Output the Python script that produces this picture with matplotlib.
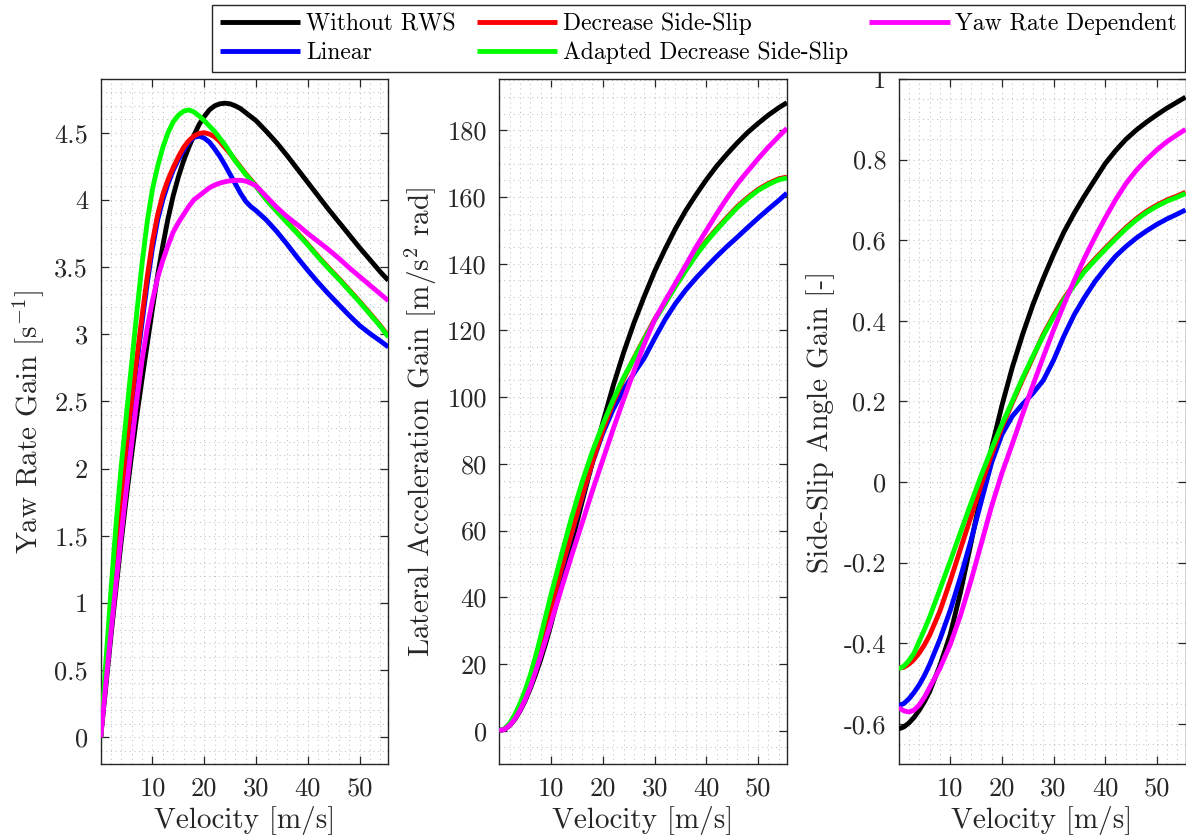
import matplotlib
matplotlib.use("Agg")
import matplotlib.pyplot as plt
from matplotlib.ticker import MultipleLocator, FixedLocator, FixedFormatter

plt.rcParams["font.family"] = ["cmr10", "DejaVu Serif"]
plt.rcParams["mathtext.fontset"] = "cm"
plt.rcParams["axes.unicode_minus"] = False
plt.rcParams["axes.formatter.use_mathtext"] = True

# ---------------------------------------------------------------- data
SERIES = ["Without RWS", "Linear", "Decrease Side-Slip",
          "Adapted Decrease Side-Slip", "Yaw Rate Dependent"]
COLORS = ["#000000", "#0000ff", "#ff0000", "#00ff00", "#ff00ff"]

# velocity samples [m/s]
V_YAW = [0, 1, 2, 3, 4, 5, 6, 7, 8, 9, 10, 11, 12, 13, 14, 15, 16, 17, 18,
         19, 20, 21, 22, 23, 24, 25, 26, 27, 28, 29, 30, 32, 34, 36, 38, 40,
         42, 44, 46, 48, 50, 52, 54, 55.56]
V_ACC = [0, 1, 2, 3, 4, 5, 6, 7, 8, 9, 10, 12, 14, 16, 18, 20, 22, 24, 26,
         28, 30, 32, 34, 36, 38, 40, 42, 44, 46, 48, 50, 52, 54, 55.56]
V_BETA = [0, 1, 2, 3, 4, 5, 6, 8, 10, 12, 14, 16, 18, 20, 22, 24, 26, 28,
          30, 32, 34, 36, 38, 40, 42, 44, 46, 48, 50, 52, 54, 55.56]

# yaw rate gain [1/s]
yaw_without = [0, 0.38, 0.76, 1.12, 1.47, 1.80, 2.11, 2.40, 2.67, 2.93, 3.19,
               3.44, 3.66, 3.86, 4.03, 4.17, 4.29, 4.39, 4.48, 4.56, 4.62,
               4.67, 4.70, 4.715, 4.72, 4.715, 4.70, 4.68, 4.65, 4.62, 4.59,
               4.51, 4.425, 4.33, 4.23, 4.13, 4.03, 3.93, 3.835, 3.74, 3.645,
               3.555, 3.465, 3.40]
yaw_linear = [0, 0.46, 0.92, 1.35, 1.76, 2.14, 2.47, 2.79, 3.09, 3.38, 3.64,
              3.85, 4.00, 4.12, 4.22, 4.30, 4.37, 4.43, 4.465, 4.475, 4.46,
              4.43, 4.38, 4.325, 4.26, 4.19, 4.12, 4.05, 3.99, 3.95, 3.92,
              3.85, 3.765, 3.67, 3.57, 3.475, 3.385, 3.30, 3.22, 3.14, 3.065,
              3.005, 2.95, 2.905]
yaw_decrease = [0, 0.47, 0.94, 1.38, 1.80, 2.18, 2.51, 2.83, 3.14, 3.43, 3.69,
                3.89, 4.04, 4.15, 4.24, 4.32, 4.39, 4.44, 4.475, 4.495, 4.50,
                4.49, 4.47, 4.435, 4.39, 4.345, 4.295, 4.245, 4.195, 4.15,
                4.105, 4.005, 3.92, 3.835, 3.755, 3.67, 3.58, 3.495, 3.415,
                3.33, 3.245, 3.155, 3.065, 2.985]
yaw_adapted = [0, 0.56, 1.10, 1.60, 2.03, 2.41, 2.79, 3.17, 3.53, 3.84, 4.08,
               4.25, 4.39, 4.50, 4.58, 4.63, 4.66, 4.67, 4.655, 4.625, 4.59,
               4.55, 4.51, 4.46, 4.41, 4.35, 4.29, 4.24, 4.19, 4.145, 4.10,
               4.00, 3.915, 3.83, 3.75, 3.665, 3.575, 3.49, 3.41, 3.325, 3.24,
               3.15, 3.06, 2.98]
yaw_dependent = [0, 0.40, 0.79, 1.16, 1.52, 1.86, 2.19, 2.52, 2.81, 3.05, 3.25,
                 3.42, 3.55, 3.66, 3.76, 3.83, 3.89, 3.95, 4.00, 4.03, 4.06,
                 4.09, 4.11, 4.125, 4.135, 4.142, 4.145, 4.146, 4.14, 4.125,
                 4.105, 4.025, 3.945, 3.875, 3.815, 3.75, 3.69, 3.63, 3.565,
                 3.495, 3.43, 3.365, 3.30, 3.25]

# lateral acceleration gain [m/s^2 rad]
acc_without = [0, 0.38, 1.52, 3.36, 5.88, 9.0, 12.66, 16.8, 21.36, 26.37, 31.9,
               43.92, 56.42, 68.64, 80.64, 92.4, 103.4, 113.28, 122.2, 130.2,
               137.7, 144.3, 150.45, 155.9, 160.7, 165.2, 169.3, 172.9, 176.3,
               179.4, 182.1, 184.6, 186.8, 188.3]
acc_linear = [0, 0.46, 1.84, 4.05, 7.04, 10.7, 14.82, 19.53, 24.72, 30.42, 36.4,
              48.0, 59.08, 69.92, 80.37, 89.2, 96.36, 102.24, 107.12, 111.72,
              117.6, 123.2, 128.0, 132.1, 135.7, 139.0, 142.2, 145.2, 148.0,
              150.9, 153.7, 156.4, 159.0, 161.2]
acc_decrease = [0, 0.47, 1.88, 4.14, 7.2, 10.9, 15.06, 19.81, 25.12, 30.87,
                36.9, 48.48, 59.36, 70.24, 80.55, 90.0, 98.34, 105.36, 111.67,
                117.56, 123.3, 128.3, 133.4, 138.2, 142.8, 146.9, 150.5, 153.9,
                157.2, 159.9, 162.3, 164.1, 165.5, 166.0]
acc_adapted = [0, 0.56, 2.2, 4.8, 8.12, 12.05, 16.74, 22.19, 28.24, 34.56, 40.8,
               52.68, 64.12, 74.56, 83.79, 91.8, 99.22, 105.84, 111.54, 117.32,
               123.0, 128.0, 133.1, 137.9, 142.5, 146.6, 150.2, 153.6, 156.9,
               159.6, 162.0, 163.8, 165.2, 165.7]
acc_dependent = [0, 0.40, 1.58, 3.48, 6.08, 9.3, 13.14, 17.64, 22.48, 27.45,
                 32.5, 42.6, 52.64, 62.24, 72.0, 81.2, 90.42, 99.24, 107.77,
                 115.92, 123.15, 128.8, 134.1, 139.5, 145.0, 150.0, 155.0,
                 159.7, 164.0, 167.8, 171.5, 175.0, 178.2, 180.6]

# side-slip angle gain [-]
beta_without = [-0.613, -0.608, -0.598, -0.584, -0.566, -0.545, -0.52, -0.455,
                -0.378, -0.272, -0.152, -0.028, 0.085, 0.19, 0.284, 0.366,
                0.44, 0.505, 0.565, 0.62, 0.667, 0.71, 0.75, 0.79, 0.822,
                0.85, 0.873, 0.893, 0.911, 0.928, 0.943, 0.955]
beta_linear = [-0.555, -0.55, -0.538, -0.522, -0.503, -0.48, -0.453, -0.39,
               -0.318, -0.235, -0.145, -0.048, 0.048, 0.118, 0.163, 0.193,
               0.22, 0.252, 0.302, 0.362, 0.415, 0.458, 0.497, 0.53, 0.56,
               0.584, 0.605, 0.623, 0.639, 0.653, 0.665, 0.675]
beta_decrease = [-0.462, -0.46, -0.452, -0.44, -0.424, -0.404, -0.38, -0.32,
                 -0.245, -0.165, -0.086, -0.006, 0.068, 0.136, 0.196, 0.254,
                 0.309, 0.366, 0.413, 0.455, 0.491, 0.525, 0.553, 0.58, 0.606,
                 0.631, 0.653, 0.672, 0.687, 0.700, 0.710, 0.719]
beta_adapted = [-0.464, -0.457, -0.443, -0.424, -0.395, -0.366, -0.335, -0.266,
                -0.196, -0.124, -0.053, 0.017, 0.082, 0.143, 0.2, 0.258, 0.312,
                0.363, 0.41, 0.452, 0.488, 0.522, 0.55, 0.577, 0.603, 0.628,
                0.65, 0.669, 0.684, 0.697, 0.707, 0.716]
beta_dependent = [-0.56, -0.568, -0.571, -0.566, -0.553, -0.534, -0.51, -0.462,
                  -0.403, -0.33, -0.245, -0.153, -0.06, 0.022, 0.094, 0.168,
                  0.24, 0.31, 0.377, 0.44, 0.5, 0.556, 0.607, 0.655, 0.70,
                  0.74, 0.773, 0.80, 0.824, 0.845, 0.862, 0.875]

X_TICKS = [10, 20, 30, 40, 50]
X_TICK_LABELS = ["10", "20", "30", "40", "50"]

YAW_TICKS = [0, 0.5, 1, 1.5, 2, 2.5, 3, 3.5, 4, 4.5]
YAW_TICK_LABELS = ["0", "0.5", "1", "1.5", "2", "2.5", "3", "3.5", "4", "4.5"]
ACC_TICKS = [0, 20, 40, 60, 80, 100, 120, 140, 160, 180]
ACC_TICK_LABELS = ["0", "20", "40", "60", "80", "100", "120", "140", "160", "180"]
BETA_TICKS = [-0.6, -0.4, -0.2, 0, 0.2, 0.4, 0.6, 0.8, 1]
BETA_TICK_LABELS = ["-0.6", "-0.4", "-0.2", "0", "0.2", "0.4", "0.6", "0.8", "1"]

# ---------------------------------------------------------------- figure
W, H = 1186, 836
fig = plt.figure(figsize=(W / 100, H / 100), dpi=100)
INK = "#262626"
GRID = "#c2c2c2"


def px_axes(left, right, top, bottom):
    return [left / W, 1 - bottom / H, (right - left) / W, (bottom - top) / H]


panels = [
    dict(rect=px_axes(100.7, 388.3, 79, 764), v=V_YAW,
         ys=[yaw_without, yaw_linear, yaw_decrease, yaw_adapted, yaw_dependent],
         ylim=(-0.2, 4.9), yticks=YAW_TICKS, ylabels=YAW_TICK_LABELS,
         yminor=0.1, ylabel="Yaw Rate Gain [s$^{-1}$]"),
    dict(rect=px_axes(499.3, 786.9, 79, 764), v=V_ACC,
         ys=[acc_without, acc_linear, acc_decrease, acc_adapted, acc_dependent],
         ylim=(-10, 195.4), yticks=ACC_TICKS, ylabels=ACC_TICK_LABELS,
         yminor=5, ylabel="Lateral Acceleration Gain [m/s$^2$ rad]"),
    dict(rect=px_axes(898.7, 1185.5, 79, 764), v=V_BETA,
         ys=[beta_without, beta_linear, beta_decrease, beta_adapted, beta_dependent],
         ylim=(-0.7, 1.0), yticks=BETA_TICKS, ylabels=BETA_TICK_LABELS,
         yminor=0.05, ylabel="Side-Slip Angle Gain [-]"),
]

handles = []
for p in panels:
    ax = fig.add_axes(p["rect"])
    lines = []
    for k, (y, c, name) in enumerate(zip(p["ys"], COLORS, SERIES)):
        ln, = ax.plot(p["v"], y, color=c, lw=3.5, label=name,
                      solid_capstyle="butt", solid_joinstyle="round",
                      zorder=3 + k)
        lines.append(ln)
    handles = lines

    ax.set_xlim(0, 55.56)
    ax.set_ylim(*p["ylim"])
    ax.xaxis.set_major_locator(FixedLocator(X_TICKS))
    ax.xaxis.set_major_formatter(FixedFormatter(X_TICK_LABELS))
    ax.yaxis.set_major_locator(FixedLocator(p["yticks"]))
    ax.yaxis.set_major_formatter(FixedFormatter(p["ylabels"]))
    ax.xaxis.set_minor_locator(MultipleLocator(2))
    ax.yaxis.set_minor_locator(MultipleLocator(p["yminor"]))

    ax.set_axisbelow(True)
    ax.grid(which="both", color=GRID, linestyle=(0, (1, 3.5)), linewidth=0.75)

    ax.tick_params(which="major", direction="in", top=True, right=True,
                   length=6, width=0.9, color=INK, labelcolor=INK,
                   labelsize=19, pad=9)
    ax.tick_params(which="minor", length=0)
    for s in ax.spines.values():
        s.set_color(INK)
        s.set_linewidth(1.0)

    ax.set_xlabel("Velocity [m/s]", fontsize=21, color=INK, labelpad=4)
    ax.set_ylabel(p["ylabel"], fontsize=21, color=INK, labelpad=6)

leg = fig.legend(handles, SERIES, ncol=3, loc="upper right",
                 bbox_to_anchor=(1185 / W, 1 - 5 / H), fontsize=17,
                 frameon=True, fancybox=False, edgecolor=INK, framealpha=1,
                 handlelength=3.4, handletextpad=0.25, columnspacing=0.9,
                 borderpad=0.33, labelspacing=0.27, borderaxespad=0)
leg.get_frame().set_linewidth(1.0)
for t in leg.get_texts():
    t.set_color("black")

fig.savefig("out.png", dpi=100)
